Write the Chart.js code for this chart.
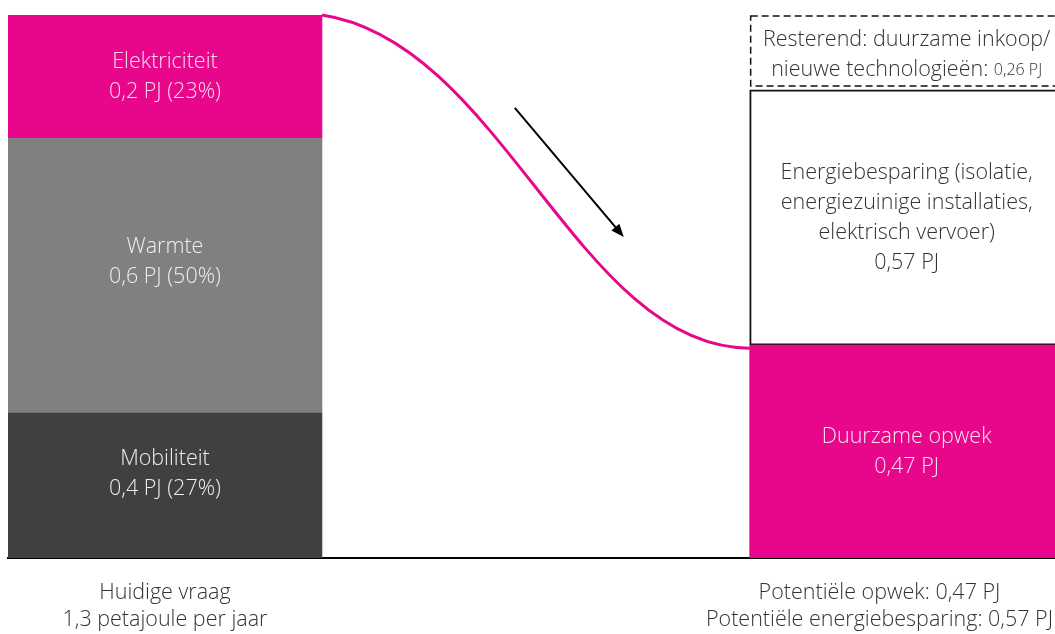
<!DOCTYPE html>
<html>
<head>
<meta charset="utf-8">
<script src="https://cdn.jsdelivr.net/npm/chart.js@4"></script>
<style>
  html, body { margin: 0; padding: 0; background: #fff; }
  #wrap { width: 1055px; height: 634px; position: relative; }
</style>
</head>
<body>
<div id="wrap"><canvas id="chartVraag"></canvas></div>
<script>
// Kolommen: huidige vraag (links) en potentieel (rechts)
const kolomPositie = [0, 1];
const kolomOnderschrift = [
    ['Huidige vraag', '1,3 petajoule per jaar'],
    ['Potentiële opwek: 0,47 PJ', 'Potentiële energiebesparing: 0,57 PJ']
];

// Hoogte van de blokken, aandeel (%) van de totale kolom
const onderBlok = [26.7, 39.2];
const middenBlok = [50.6, 47.0];
const bovenBlok = [22.7, 13.8];

// Teksten in de blokken (tweede deel van een regel wordt kleiner gezet)
const onderTekst = [
    [['Mobiliteit'], ['0,4 PJ (27%)']],
    [['Duurzame opwek'], ['0,47 PJ']]
];
const middenTekst = [
    [['Warmte'], ['0,6 PJ (50%)']],
    [['Energiebesparing (isolatie,'], ['energiezuinige installaties,'], ['elektrisch vervoer)'], ['0,57 PJ']]
];
const bovenTekst = [
    [['Elektriciteit'], ['0,2 PJ (23%)']],
    [['Resterend: duurzame inkoop/'], ['nieuwe technologieën: ', '0,26 PJ']]
];

const MAGENTA = '#e8078b';
const FONT = '"Open Sans", "Noto Sans", sans-serif';

function punten(waarden) {
    return waarden.map((v, i) => ({ x: kolomPositie[i], y: v }));
}

// tekst, curve, pijl en stippellijn
const tekenPlugin = {
    id: 'tekenPlugin',
    afterDatasetsDraw(chart, args, opts) {
        const ctx = chart.ctx;
        const xs = chart.scales.x, ys = chart.scales.y;
        const blokken = [
            { meta: chart.getDatasetMeta(0), tekst: onderTekst, kleur: ['#eeeeee', 'rgba(255,255,255,0.88)'] },
            { meta: chart.getDatasetMeta(1), tekst: middenTekst, kleur: ['#eeeeee', '#333333'] },
            { meta: chart.getDatasetMeta(2), tekst: bovenTekst, kleur: ['rgba(255,255,255,0.85)', '#333333'] }
        ];

        ctx.save();

        // curve van bovenkant links naar duurzame opwek rechts
        const linksBoven = chart.getDatasetMeta(2).data[0];
        const rechtsOnder = chart.getDatasetMeta(0).data[1];
        const p0x = linksBoven.x + linksBoven.width / 2, p0y = linksBoven.y;
        const p3x = rechtsOnder.x - rechtsOnder.width / 2, p3y = rechtsOnder.y + 3;
        const dx = p3x - p0x, dy = p3y - p0y;
        ctx.beginPath();
        ctx.moveTo(p0x, p0y);
        ctx.bezierCurveTo(p0x + dx * 0.42, p0y + dy * 0.08, p0x + dx * 0.6, p3y, p3x, p3y);
        ctx.strokeStyle = MAGENTA;
        ctx.lineWidth = 3;
        ctx.stroke();

        // pijl
        const a = opts.pijl;
        const ax0 = xs.getPixelForValue(a.van[0]), ay0 = ys.getPixelForValue(a.van[1]);
        const ax1 = xs.getPixelForValue(a.naar[0]), ay1 = ys.getPixelForValue(a.naar[1]);
        const hoek = Math.atan2(ay1 - ay0, ax1 - ax0);
        ctx.beginPath();
        ctx.moveTo(ax0, ay0);
        ctx.lineTo(ax1 - 8 * Math.cos(hoek), ay1 - 8 * Math.sin(hoek));
        ctx.strokeStyle = '#000';
        ctx.lineWidth = 2;
        ctx.stroke();
        ctx.beginPath();
        ctx.moveTo(ax1, ay1);
        ctx.lineTo(ax1 - 14 * Math.cos(hoek - 0.38), ay1 - 14 * Math.sin(hoek - 0.38));
        ctx.lineTo(ax1 - 14 * Math.cos(hoek + 0.38), ay1 - 14 * Math.sin(hoek + 0.38));
        ctx.closePath();
        ctx.fillStyle = '#000';
        ctx.fill();

        // stippellijn rond resterend blok
        const rest = chart.getDatasetMeta(2).data[1];
        const rl = rest.x - rest.width / 2;
        ctx.setLineDash([7, 4]);
        ctx.lineWidth = 1.5;
        ctx.strokeStyle = '#111';
        ctx.strokeRect(rl + 1, rest.y + 1, rest.width - 2, rest.base - rest.y - 5);
        ctx.setLineDash([]);

        // teksten in de blokken
        ctx.textAlign = 'left';
        ctx.textBaseline = 'middle';
        blokken.forEach((b, bi) => {
            b.meta.data.forEach((el, i) => {
                const regels = b.tekst[i];
                const lh = 30;
                const midden = (el.y + el.base) / 2 + (opts.verschuiving[bi][i] || 0);
                const start = midden - (regels.length - 1) * lh / 2;
                ctx.fillStyle = b.kleur[i];
                regels.forEach((r, ri) => {
                    const fGroot = '300 21.5px ' + FONT, fKlein = '300 16px ' + FONT;
                    ctx.font = fGroot;
                    const w1 = ctx.measureText(r[0]).width;
                    let w2 = 0;
                    if (r[1]) { ctx.font = fKlein; w2 = ctx.measureText(r[1]).width; }
                    let x = el.x - (w1 + w2) / 2;
                    const y = start + ri * lh;
                    ctx.font = fGroot;
                    ctx.fillText(r[0], x, y);
                    if (r[1]) { ctx.font = fKlein; ctx.fillText(r[1], x + w1, y + 1); }
                });
            });
        });

        // onderschriften
        ctx.font = '300 21.5px ' + FONT;
        ctx.fillStyle = '#333333';
        ctx.textAlign = 'center';
        chart.getDatasetMeta(0).data.forEach((el, i) => {
            const regels = kolomOnderschrift[i];
            const breedste = Math.max(...regels.map(r => ctx.measureText(r).width));
            const cx = Math.min(el.x, chart.width - breedste / 2 - 2);
            regels.forEach((r, ri) => ctx.fillText(r, cx, 593 + ri * 27));
        });

        ctx.restore();
    }
};

new Chart(document.getElementById('chartVraag'), {
    type: 'bar',
    data: {
        datasets: [{
            label: 'onder',
            data: punten(onderBlok),
            backgroundColor: ['#404040', MAGENTA],
            borderWidth: 0
        }, {
            label: 'midden',
            data: punten(middenBlok),
            backgroundColor: ['#808080', '#ffffff'],
            borderColor: ['rgba(0,0,0,0)', '#111111'],
            borderWidth: [0, 2],
            borderSkipped: false
        }, {
            label: 'boven',
            data: punten(bovenBlok),
            backgroundColor: [MAGENTA, '#ffffff'],
            borderWidth: 0
        }]
    },
    options: {
        responsive: true,
        maintainAspectRatio: false,
        animation: false,
        barThickness: 314,
        layout: { padding: { top: 15, left: 8, right: 0, bottom: 76 } },
        scales: {
            x: {
                type: 'linear',
                stacked: true,
                offset: false,
                min: -0.2116,
                max: 1.2,
                grid: { display: false, drawTicks: false },
                ticks: { display: false },
                border: { display: true, color: '#000', width: 2 }
            },
            y: {
                stacked: true,
                min: 0,
                max: 100,
                display: false
            }
        },
        plugins: {
            legend: { display: false },
            tooltip: { enabled: false },
            tekenPlugin: {
                pijl: { van: [0.4717, 82.9], naar: [0.6186, 59.1] },
                verschuiving: [[-12, 0], [-14, 0], [0, 2]]
            }
        }
    },
    plugins: [tekenPlugin]
});
</script>
</body>
</html>
